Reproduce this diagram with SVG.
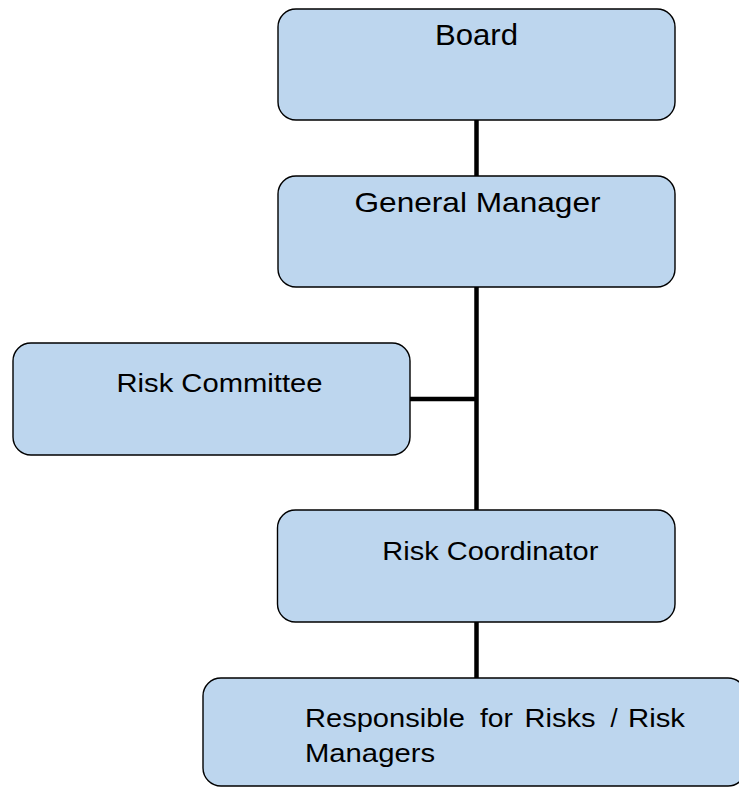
<svg xmlns="http://www.w3.org/2000/svg" width="739" height="787" viewBox="0 0 739 787">
<style>
.box{fill:#BDD6EE;stroke:#000;stroke-width:1.4}
.t{font-family:"Liberation Sans",Arial,sans-serif;fill:#000}
.c{stroke:#000;stroke-width:4.5;fill:none}
</style>
<rect width="739" height="787" fill="#fff"/>
<g id="connectors">
<line class="c" x1="476.5" y1="120" x2="476.5" y2="176"/>
<line class="c" x1="476.5" y1="287" x2="476.5" y2="510"/>
<line class="c" x1="410" y1="399" x2="476.5" y2="399"/>
<line class="c" x1="476.5" y1="622" x2="476.5" y2="678"/>
</g>
<g id="board">
<rect class="box" x="278" y="9" width="397" height="111" rx="18"/>
<text class="t" x="476.5" y="45" font-size="30" text-anchor="middle" textLength="83" lengthAdjust="spacingAndGlyphs">Board</text>
</g>
<g id="general-manager">
<rect class="box" x="278" y="176" width="397" height="111" rx="18"/>
<text class="t" x="477.5" y="211.7" font-size="28" text-anchor="middle" textLength="246" lengthAdjust="spacingAndGlyphs">General Manager</text>
</g>
<g id="risk-committee">
<rect class="box" x="13" y="343" width="397" height="112" rx="18"/>
<text class="t" x="219.5" y="392.3" font-size="25.6" text-anchor="middle" textLength="206" lengthAdjust="spacingAndGlyphs">Risk Committee</text>
</g>
<g id="risk-coordinator">
<rect class="box" x="277.5" y="510" width="397.5" height="112" rx="18"/>
<text class="t" x="490.3" y="560" font-size="25.6" text-anchor="middle" textLength="216" lengthAdjust="spacingAndGlyphs">Risk Coordinator</text>
</g>
<g id="risk-managers">
<rect class="box" x="203" y="678" width="543" height="108" rx="18"/>
<text class="t" font-size="25.6" y="726.7">
<tspan x="305" textLength="160" lengthAdjust="spacingAndGlyphs">Responsible</tspan>
<tspan x="480" textLength="33" lengthAdjust="spacingAndGlyphs">for</tspan>
<tspan x="524.5" textLength="71" lengthAdjust="spacingAndGlyphs">Risks</tspan>
<tspan x="610.5">/</tspan>
<tspan x="628" textLength="57" lengthAdjust="spacingAndGlyphs">Risk</tspan>
</text>
<text class="t" x="305" y="761.7" font-size="25.6" textLength="130" lengthAdjust="spacingAndGlyphs">Managers</text>
</g>
</svg>
